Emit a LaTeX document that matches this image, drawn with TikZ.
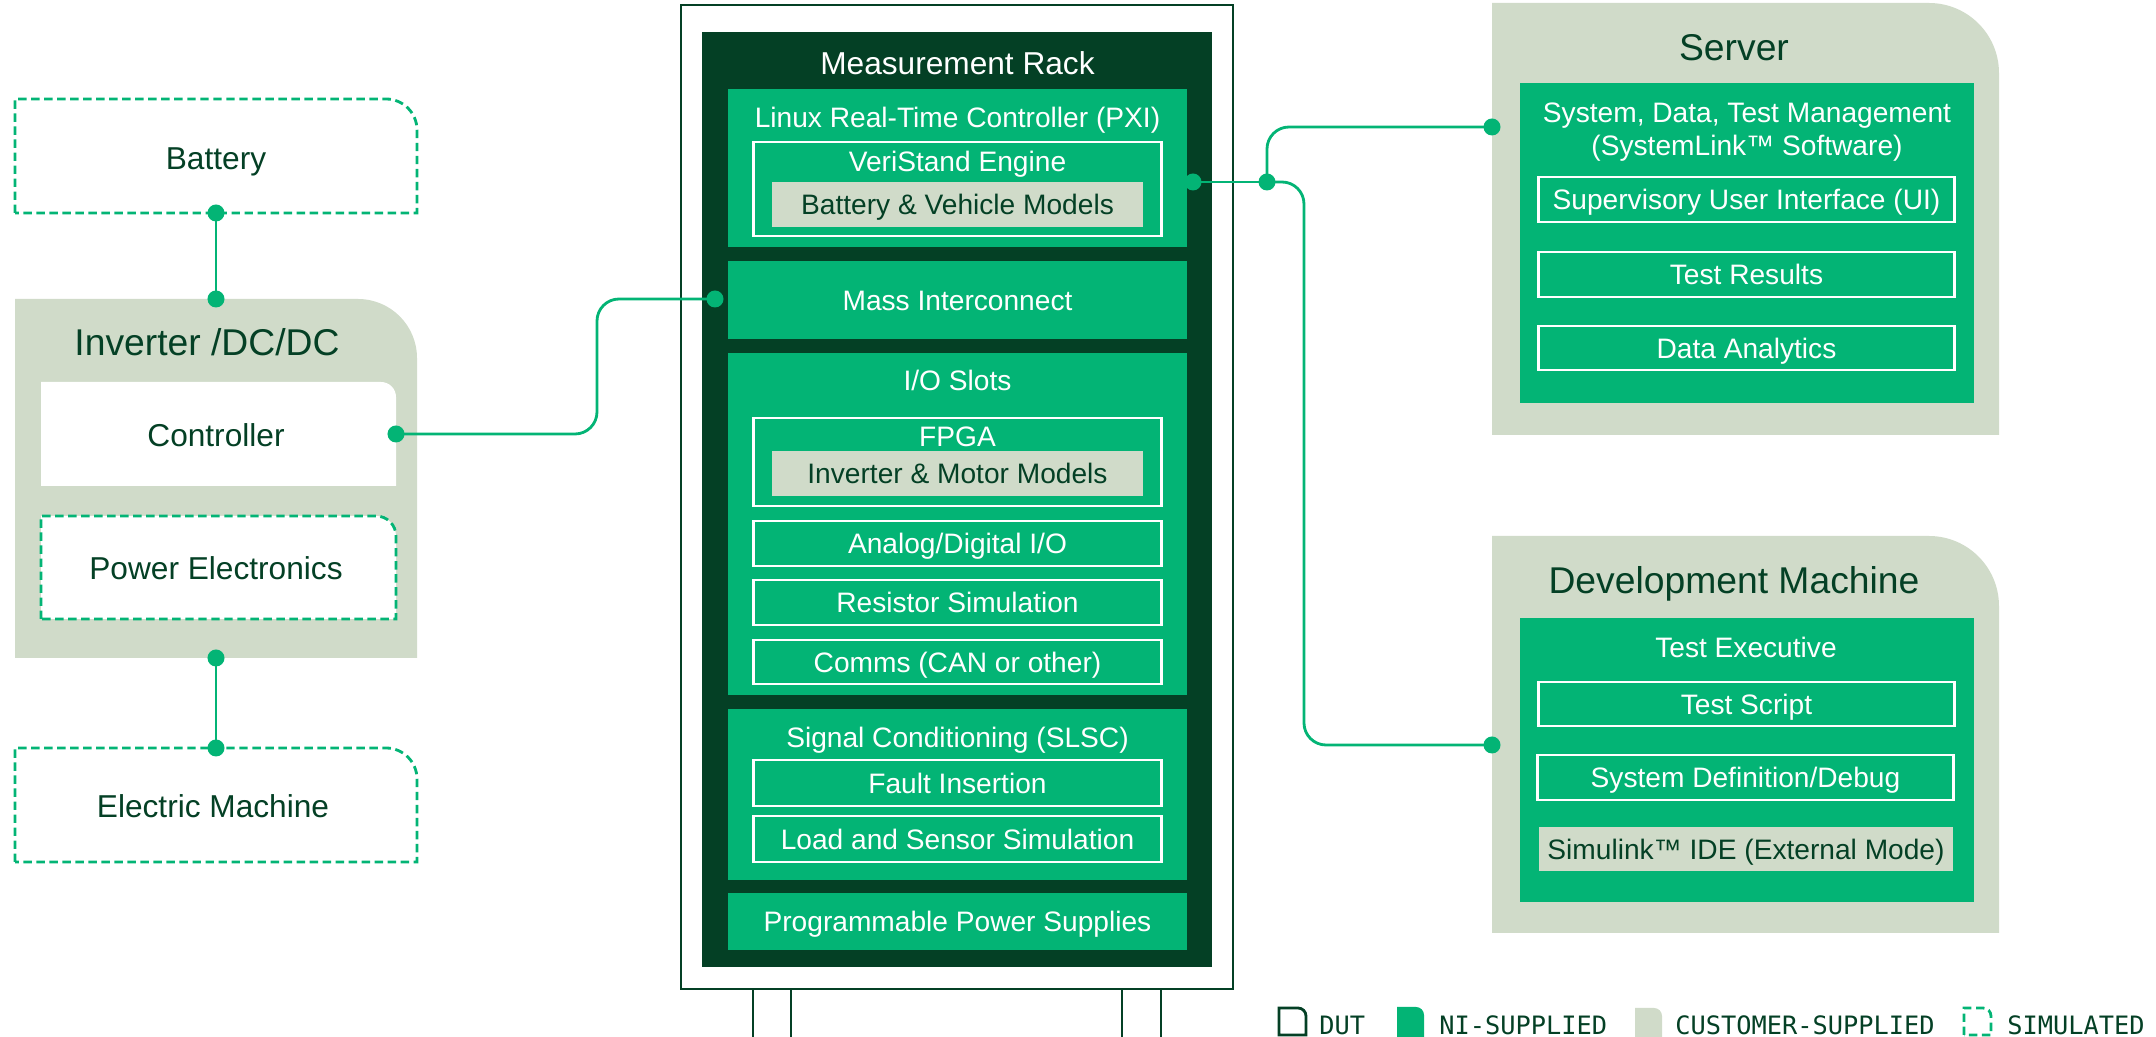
\documentclass[tikz,border=0pt]{standalone}
\usepackage{fontspec}
\setmainfont{Liberation Sans}
\newfontfamily\legendfont{DejaVu Sans Mono}

\definecolor{darkgreen}{HTML}{044025}
\definecolor{nigreen}{HTML}{03B475}
\definecolor{custgrey}{HTML}{D0DBC9}

% box with only the top right corner rounded: style, x1, y1, x2, y2, radius
\newcommand{\cornerbox}[6]{\path[#1] (#2,#5) -- (#2,#3) [rounded corners=#6] -- (#4,#3) [sharp corners] -- (#4,#5) -- cycle;}

\tikzset{
	small/.style={text height=5.73pt, text depth=0pt, font=\fontsize{8}{9.4}\selectfont},
	rackblock/.style={fill=nigreen, minimum width=4.59cm, inner sep=0pt},
	wbox/.style={small, draw=white, line width=0.8pt, inner sep=0pt, text=white},
	modelbox/.style={small, fill=custgrey, inner sep=0pt, text=darkgreen},
	intext/.style={small, text=white},
	dut/.style={text height=6.44pt, text depth=0pt, text=darkgreen, font=\fontsize{9}{11}\selectfont},
	pctitle/.style={text height=7.59pt, text depth=0pt, text=darkgreen, font=\fontsize{10.6}{12}\selectfont},
	joint/.style={circle, fill=nigreen, inner sep=0pt, minimum size=0.17cm},
	link/.style={draw=nigreen, line width=0.8pt, rounded corners=0.22cm},
	simline/.style={draw=nigreen, line width=0.8pt, dash pattern=on 2.4pt off 1.3pt},
	legtext/.style={text height=5.25pt, text depth=0pt, anchor=west, text=darkgreen, font=\legendfont\fontsize{7.2}{8}\selectfont},
}

\begin{document}
\begin{tikzpicture}[x=0.01cm,y=-0.01cm]
	\useasboundingbox (0,0) rectangle (2156,1037);

	% device under test
	\cornerbox{simline}{15}{99}{417}{213}{0.31cm}
	\node[dut] (battery) at (216,158) {Battery};
	\cornerbox{fill=custgrey}{15}{299}{417}{658}{0.59cm}
	\node[pctitle] (inverter) at (207,342) {Inverter /DC/DC};
	\cornerbox{fill=white}{41}{382}{396}{486}{0.15cm}
	\node[dut] (controller) at (216,435) {Controller};
	\cornerbox{fill=white, simline}{41}{516}{396}{619}{0.2cm}
	\node[dut] (powerel) at (216,568) {Power Electronics};
	\cornerbox{simline}{15}{748}{417}{862}{0.31cm}
	\node[dut] (emachine) at (213,806) {Electric Machine};

	% rack frame and feet
	\draw[darkgreen, line width=0.6pt, fill=white] (753,985) rectangle (791,1050);
	\draw[darkgreen, line width=0.6pt, fill=white] (1122,985) rectangle (1161,1050);
	\draw[darkgreen, line width=0.6pt, fill=white] (681,5) rectangle (1233,989);
	\fill[darkgreen] (702,32) rectangle (1212,967);
	\node[dut, text=white] (racktitle) at (957.5,63) {Measurement Rack};

	% controller
	\node[rackblock, minimum height=1.58cm] (linuxrt) at (957.5,168) {};
	\node[intext] (linuxrttitle) at (957.5,117) {Linux Real-Time Controller (PXI)};
	\node[wbox, minimum width=4.07cm, minimum height=0.94cm] (veristand) at (957.5,189) {};
	\node[intext] (veristandtitle) at (957.5,161) {VeriStand Engine};
	\node[modelbox, minimum width=3.71cm, minimum height=0.45cm] (batmodels) at (957.5,204.5) {Battery \& Vehicle Models};

	% mass interconnect
	\node[rackblock, minimum height=0.78cm, intext] (mass) at (957.5,300) {Mass Interconnect};

	% i/o slots
	\node[rackblock, minimum height=3.42cm] (ioslots) at (957.5,524) {};
	\node[intext] (ioslotstitle) at (957.5,380) {I/O Slots};
	\node[wbox, minimum width=4.07cm, minimum height=0.88cm] (fpga) at (957.5,462) {};
	\node[intext] (fpgatitle) at (957.5,436) {FPGA};
	\node[modelbox, minimum width=3.71cm, minimum height=0.45cm] (invmodels) at (957.5,473.5) {Inverter \& Motor Models};
	\node[wbox, minimum width=4.07cm, minimum height=0.45cm] (adio) at (957.5,543.5) {Analog/Digital I/O};
	\node[wbox, minimum width=4.07cm, minimum height=0.45cm] (resistor) at (957.5,602.5) {Resistor Simulation};
	\node[wbox, minimum width=4.07cm, minimum height=0.44cm] (comms) at (957.5,662) {Comms (CAN or other)};

	% signal conditioning
	\node[rackblock, minimum height=1.71cm] (slsc) at (957.5,794.5) {};
	\node[intext] (slsctitle) at (957.5,737) {Signal Conditioning (SLSC)};
	\node[wbox, minimum width=4.07cm, minimum height=0.46cm] (fault) at (957.5,783) {Fault Insertion};
	\node[wbox, minimum width=4.07cm, minimum height=0.46cm] (loadsim) at (957.5,839) {Load and Sensor Simulation};

	% power supplies
	\node[rackblock, minimum height=0.57cm, intext] (pps) at (957.5,921.5) {Programmable Power Supplies};

	% server
	\cornerbox{fill=custgrey}{1492}{3}{1999}{435}{0.7cm}
	\node[pctitle] (server) at (1734,47) {Server};
	\node[rackblock, minimum width=4.54cm, minimum height=3.2cm] (systemlink) at (1747,243) {};
	\node[intext] (systemlinktitle) at (1747,112) {System, Data, Test Management};
	\node[intext] (systemlinksub) at (1747,145) {(SystemLink™ Software)};
	\node[wbox, minimum width=4.15cm, minimum height=0.45cm] (supui) at (1746.5,199.5) {Supervisory User Interface (UI)};
	\node[wbox, minimum width=4.15cm, minimum height=0.45cm] (results) at (1746.5,274.5) {Test Results};
	\node[wbox, minimum width=4.15cm, minimum height=0.44cm] (analytics) at (1746.5,348) {Data Analytics};

	% development machine
	\cornerbox{fill=custgrey}{1492}{536}{1999}{933}{0.7cm}
	\node[pctitle] (devmachine) at (1734,580) {Development Machine};
	\node[rackblock, minimum width=4.54cm, minimum height=2.84cm] (testexec) at (1747,760) {};
	\node[intext] (testexectitle) at (1746,647) {Test Executive};
	\node[wbox, minimum width=4.15cm, minimum height=0.44cm] (script) at (1746.5,704) {Test Script};
	\node[wbox, minimum width=4.15cm, minimum height=0.45cm] (sysdef) at (1745.5,777.5) {System Definition/Debug};
	\node[modelbox, minimum width=4.14cm, minimum height=0.44cm] (simulink) at (1746,849) {Simulink™ IDE (External Mode)};

	% connection points
	\node[joint] (batS) at (216,213) {};
	\node[joint] (invN) at (216,299) {};
	\node[joint] (invS) at (216,658) {};
	\node[joint] (emN) at (216,748) {};
	\node[joint] (ctrlE) at (396,434) {};
	\node[joint] (massW) at (715,299) {};
	\node[joint] (rtE) at (1193,182) {};
	\node[joint] (hub) at (1267,182) {};
	\node[joint] (srvW) at (1492,127) {};
	\node[joint] (devW) at (1492,745) {};

	% links
	\draw[link] (batS.center) -- (invN.center);
	\draw[link] (invS.center) -- (emN.center);
	\draw[link] (ctrlE.center) -- ++(201,0) |- (massW.center);
	\draw[link] (rtE.center) -- (hub.center);
	\draw[link] (hub.center) |- (srvW.center);
	\draw[link] (hub.center) -- ++(37,0) |- (devW.center);

	% legend
	\cornerbox{draw=darkgreen, line width=0.8pt, fill=white}{1279}{1008}{1306}{1035}{0.08cm}
	\node[legtext] (legdut) at (1307,1025) {DUT};
	\cornerbox{fill=nigreen}{1397}{1007}{1424}{1037}{0.08cm}
	\node[legtext] (legni) at (1427,1025) {NI-SUPPLIED};
	\cornerbox{fill=custgrey}{1635}{1008}{1662}{1037}{0.08cm}
	\node[legtext] (legcust) at (1663,1025) {CUSTOMER-SUPPLIED};
	\cornerbox{simline}{1964}{1008}{1991}{1035}{0.08cm}
	\node[legtext] (legsim) at (1995,1025) {SIMULATED};
\end{tikzpicture}
\end{document}
